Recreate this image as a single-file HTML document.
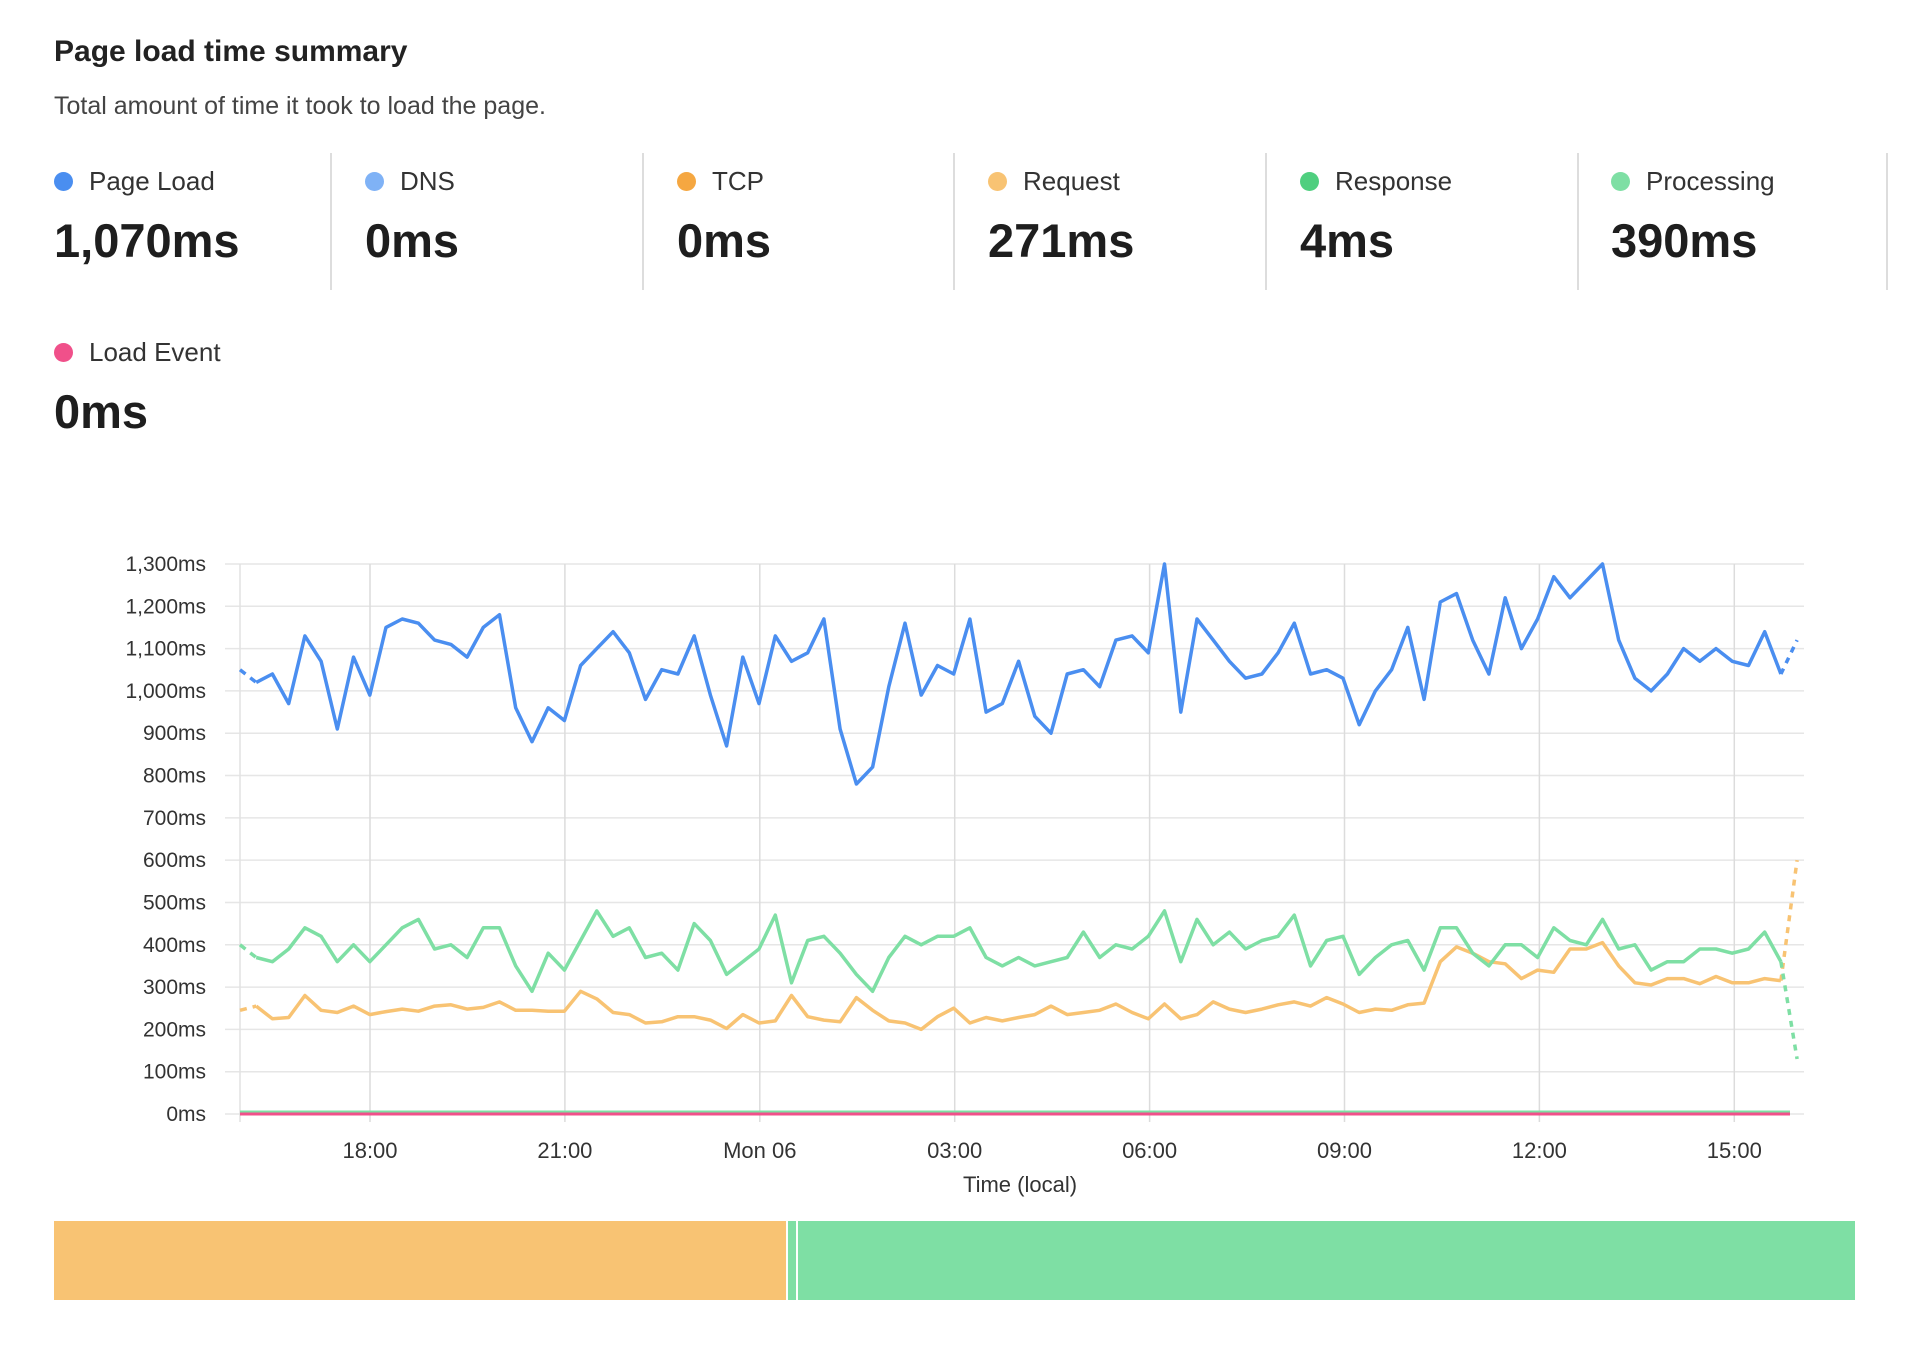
<!DOCTYPE html>
<html><head><meta charset="utf-8"><style>
body{margin:0;background:#fff;width:1910px;height:1352px;overflow:hidden;font-family:"Liberation Sans",sans-serif;color:#222;position:relative}
.t{position:absolute;left:54px;top:35px;font-size:30px;font-weight:bold;color:#222}
.s{position:absolute;left:54px;top:92px;font-size:25px;color:#444}
.st{position:absolute;width:300px;height:138px}
.st .l{position:absolute;left:0;top:16px;font-size:26px;color:#333;white-space:nowrap}
.st .l i{display:inline-block;width:19px;height:19px;border-radius:50%;margin-right:16px;vertical-align:-1px}
.st .v{position:absolute;left:0;top:63px;font-size:47px;font-weight:bold;color:#1e1e1e}
.dv{position:absolute;top:153px;width:2px;height:137px;background:#ddd}
</style></head><body>
<div class="t">Page load time summary</div>
<div class="s">Total amount of time it took to load the page.</div>
<div class="st" style="left:54px;top:150px"><div class="l"><i style="background:#4a8ef0"></i>Page Load</div><div class="v">1,070ms</div></div>
<div class="st" style="left:365px;top:150px"><div class="l"><i style="background:#7fb2f6"></i>DNS</div><div class="v">0ms</div></div>
<div class="st" style="left:677px;top:150px"><div class="l"><i style="background:#f5a741"></i>TCP</div><div class="v">0ms</div></div>
<div class="st" style="left:988px;top:150px"><div class="l"><i style="background:#f8c373"></i>Request</div><div class="v">271ms</div></div>
<div class="st" style="left:1300px;top:150px"><div class="l"><i style="background:#4fcf7f"></i>Response</div><div class="v">4ms</div></div>
<div class="st" style="left:1611px;top:150px"><div class="l"><i style="background:#7edfa4"></i>Processing</div><div class="v">390ms</div></div>
<div class="st" style="left:54px;top:321px"><div class="l"><i style="background:#f0508a"></i>Load Event</div><div class="v">0ms</div></div>
<div class="dv" style="left:330px"></div><div class="dv" style="left:642px"></div><div class="dv" style="left:953px"></div><div class="dv" style="left:1265px"></div><div class="dv" style="left:1577px"></div><div class="dv" style="left:1886px"></div>
<svg id="c" width="1910" height="1352" style="position:absolute;left:0;top:0" xmlns="http://www.w3.org/2000/svg"></svg>
<div style="position:absolute;left:54px;top:1221px;width:732px;height:79px;background:#f8c373"></div>
<div style="position:absolute;left:788px;top:1221px;width:8px;height:79px;background:#7edfa4"></div>
<div style="position:absolute;left:798px;top:1221px;width:1057px;height:79px;background:#7edfa4"></div>
<script>
var B=[1050,1020,1040,970,1130,1070,910,1080,990,1150,1170,1160,1120,1110,1080,1150,1180,960,880,960,930,1060,1100,1140,1090,980,1050,1040,1130,990,870,1080,970,1130,1070,1090,1170,910,780,820,1010,1160,990,1060,1040,1170,950,970,1070,940,900,1040,1050,1010,1120,1130,1090,1300,950,1170,1120,1070,1030,1040,1090,1160,1040,1050,1030,920,1000,1050,1150,980,1210,1230,1120,1040,1220,1100,1170,1270,1220,1260,1300,1120,1030,1000,1040,1100,1070,1100,1070,1060,1140,1040,1120];
var G=[400,370,360,390,440,420,360,400,360,400,440,460,390,400,370,440,440,350,290,380,340,410,480,420,440,370,380,340,450,410,330,360,390,470,310,410,420,380,330,290,370,420,400,420,420,440,370,350,370,350,360,370,430,370,400,390,420,480,360,460,400,430,390,410,420,470,350,410,420,330,370,400,410,340,440,440,380,350,400,400,370,440,410,400,460,390,400,340,360,360,390,390,380,390,430,360,130];
var O=[245,255,225,228,280,245,240,255,235,242,248,243,255,258,248,252,265,245,245,243,243,290,272,240,235,215,218,230,230,222,202,235,215,220,280,230,222,218,275,245,220,215,200,230,250,215,228,220,228,235,255,235,240,245,260,240,225,260,225,235,265,248,240,248,258,265,255,275,260,240,248,245,258,262,360,395,380,360,355,320,340,335,390,390,405,350,310,305,320,320,308,325,310,310,320,315,600];
var X0=240,DX=16.22,Y0=1114,K=0.4231;
function X(i){return X0+i*DX}function Y(v){return Y0-v*K}
function pts(a,s,e){var r=[];for(var i=s;i<=e;i++)r.push(X(i).toFixed(1)+','+Y(a[i]).toFixed(1));return r.join(' ')}
var h='';
for(var v=0;v<=1300;v+=100){h+='<line x1="225" x2="1804" y1="'+Y(v)+'" y2="'+Y(v)+'" stroke="#e6e6e6" stroke-width="1.5"/>';
var lab=(v>=1000?(Math.floor(v/1000)+','+String(v%1000).padStart(3,'0')):v)+'ms';
h+='<text x="206" y="'+(Y(v)+7)+'" text-anchor="end" font-size="21" fill="#333">'+lab+'</text>';}
var tl=['18:00','21:00','Mon 06','03:00','06:00','09:00','12:00','15:00'];
h+='<line x1="240" x2="240" y1="564" y2="1122" stroke="#e2e2e2" stroke-width="1.5"/>';
for(var j=0;j<8;j++){var x=370+j*194.9;h+='<line x1="'+x+'" x2="'+x+'" y1="564" y2="1122" stroke="#dcdcdc" stroke-width="1.5"/><text x="'+x+'" y="1158" text-anchor="middle" font-size="22" fill="#333">'+tl[j]+'</text>';}
h+='<text x="1020" y="1192" text-anchor="middle" font-size="22" fill="#333">Time (local)</text>';
function ser(a,c){return '<polyline points="'+pts(a,0,1)+'" fill="none" stroke="'+c+'" stroke-width="3.5" stroke-dasharray="7,6"/>'+
'<polyline points="'+pts(a,1,95)+'" fill="none" stroke="'+c+'" stroke-width="3.5" stroke-linejoin="round"/>'+
'<polyline points="'+pts(a,95,96)+'" fill="none" stroke="'+c+'" stroke-width="3.5" stroke-dasharray="6,6"/>';}
h+='<line x1="240" x2="1790" y1="'+(Y0-2)+'" y2="'+(Y0-2)+'" stroke="#7edfa4" stroke-width="3"/>';
h+='<line x1="240" x2="1790" y1="'+Y0+'" y2="'+Y0+'" stroke="#f0508a" stroke-width="3"/>';
h+=ser(O,'#f8c373')+ser(G,'#7edfa4')+ser(B,'#4a8ef0');
document.getElementById('c').innerHTML=h;
</script>
</body></html>
